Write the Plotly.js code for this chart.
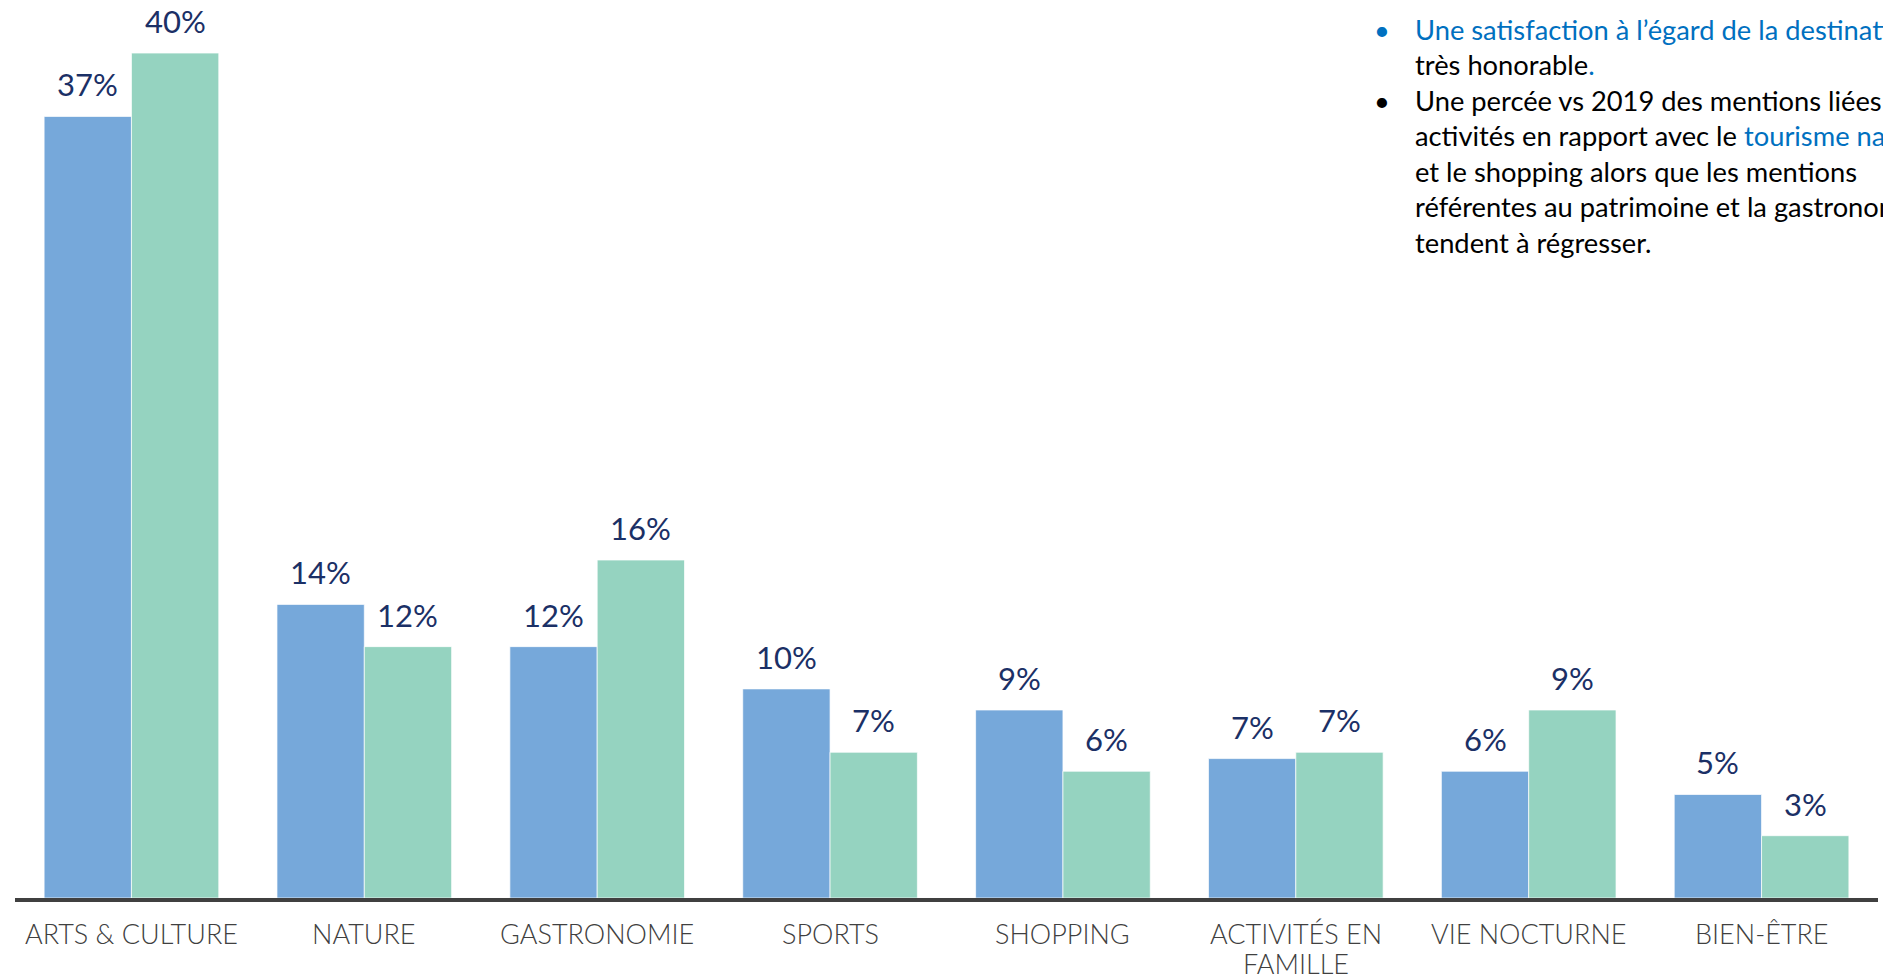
<!DOCTYPE html>
<html>
<head>
<meta charset="utf-8">
<script src="https://cdn.plot.ly/plotly-3.0.1.min.js"></script>
<style>
  html, body { margin: 0; padding: 0; background: #ffffff; }
  #chart { width: 1883px; height: 976px; }
</style>
</head>
<body>
<div id="chart"></div>
<script>
// ---- data ----
const categories = ["ARTS & CULTURE", "NATURE", "GASTRONOMIE", "SPORTS", "SHOPPING",
                    "ACTIVITÉS EN<br>FAMILLE", "VIE NOCTURNE", "BIEN-ÊTRE"];
const series1Values = [37, 13.9, 11.9, 9.9, 8.9, 6.6, 6.0, 4.9];
const series1Labels = ["37%", "14%", "12%", "10%", "9%", "7%", "6%", "5%"];
const series2Values = [40, 11.9, 16, 6.9, 6.0, 6.9, 8.9, 2.95];
const series2Labels = ["40%", "12%", "16%", "7%", "6%", "7%", "9%", "3%"];

const blue = "#76A8DA";
const green = "#95D3C0";
const labelColor = "#1B3066";

const bargap = 0.25;
const marginL = 15, marginR = 5, marginT = 1, marginB = 78;
const plotW = 1883 - marginL - marginR;
const catW = plotW / categories.length;
const barW = catW * (1 - bargap) / 2;

const traces = [
  { type: "bar", x: categories, y: series1Values, name: "s1",
    marker: { color: blue, line: { color: "rgba(255,255,255,0.7)", width: 1 } },
    hoverinfo: "skip" },
  { type: "bar", x: categories, y: series2Values, name: "s2",
    marker: { color: green, line: { color: "rgba(255,255,255,0.7)", width: 1 } },
    hoverinfo: "skip" }
];

const annotations = [];
categories.forEach((c, i) => {
  annotations.push({ x: c, y: series1Values[i], xref: "x", yref: "y", text: series1Labels[i],
    showarrow: false, xshift: -barW / 2, yanchor: "bottom", yshift: 11,
    font: { family: "Lato, sans-serif", size: 31, color: labelColor } });
  annotations.push({ x: c, y: series2Values[i], xref: "x", yref: "y", text: series2Labels[i],
    showarrow: false, xshift: barW / 2, yanchor: "bottom", yshift: 11,
    font: { family: "Lato, sans-serif", size: 31, color: labelColor } });
  // category label, one annotation per line for tight line spacing
  c.split("<br>").forEach((line, k) => {
    annotations.push({ x: c, y: 0, xref: "x", yref: "y", text: line,
      showarrow: false, yanchor: "middle", yshift: -35 - 30 * k, borderpad: 0,
      font: { family: "Lato, sans-serif", size: 27, color: "#404040", weight: 300 } });
  });
});

// right-side commentary
const textBlue = "#0070C0";
const commentLines = [
  '<span style="color:' + textBlue + '">Une satisfaction à l’égard de la destination</span>',
  'très honorable<span style="color:' + textBlue + '">.</span>',
  'Une percée vs 2019 des mentions liées aux',
  'activités en rapport avec le <span style="color:' + textBlue + '">tourisme nature</span>',
  'et le shopping alors que les mentions',
  'référentes au patrimoine et la gastronomie',
  'tendent à régresser.'
];
const plotH = 976 - marginT - marginB;
const px2paper = (px) => (px - marginL) / plotW;
const py2paper = (py) => 1 - (py - marginT) / plotH;

annotations.push({
  xref: "paper", yref: "paper", x: px2paper(1413), y: py2paper(11),
  xanchor: "left", yanchor: "top", align: "left", showarrow: false,
  text: commentLines.join("<br>"),
  font: { family: "Lato, Carlito, sans-serif", size: 27.3, color: "#000000" }
});
annotations.push({
  xref: "paper", yref: "paper", x: px2paper(1372), y: py2paper(11),
  xanchor: "left", yanchor: "top", align: "left", showarrow: false,
  text: '<span style="color:' + textBlue + '">•</span><br> <br>•',
  font: { family: "Lato, Carlito, sans-serif", size: 27.3, color: "#000000" }
});

const layout = {
  width: 1883, height: 976,
  margin: { l: marginL, r: marginR, t: marginT, b: marginB, pad: 0 },
  paper_bgcolor: "#ffffff", plot_bgcolor: "#ffffff",
  barmode: "group", bargap: bargap, bargroupgap: 0,
  showlegend: false,
  xaxis: {
    type: "category", showgrid: false, zeroline: false,
    showline: true, linecolor: "#404040", linewidth: 4, ticks: "",
    showticklabels: false
  },
  yaxis: {
    range: [0, (plotH - 1) / 21.1], visible: false, showgrid: false, zeroline: false, fixedrange: true
  },
  annotations: annotations
};

Plotly.newPlot("chart", traces, layout, { displayModeBar: false, staticPlot: true });
</script>
</body>
</html>
